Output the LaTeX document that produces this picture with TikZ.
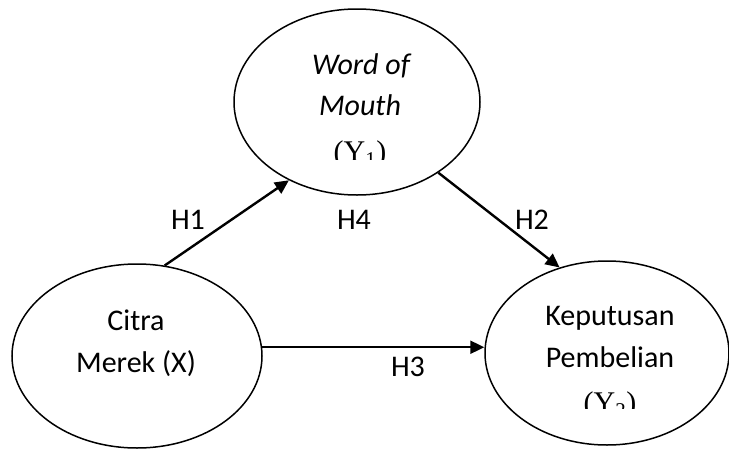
\documentclass[tikz,border=0pt]{standalone}
\usepackage{fontspec}
\setmainfont{Carlito}
\newfontfamily\timesfont{Liberation Serif}
\usetikzlibrary{shapes.geometric,arrows.meta}
\begin{document}
\begin{tikzpicture}[x=1pt,y=-1pt,
  ell/.style={draw, ellipse, line width=1.5pt, inner sep=0pt},
  txt/.style={font=\fontsize{30}{30}\selectfont, inner sep=0pt, anchor=base},
  ytxt/.style={font=\timesfont\fontsize{30}{30}\selectfont, inner sep=0pt, anchor=base},
  arr/.style={-{Triangle[length=14pt,width=13pt]}, line width=2.4pt}]
\useasboundingbox (0,0) rectangle (729,450);
% ellipses
\node[ell, minimum width=246pt, minimum height=186pt] (W) at (357,102) {};
\node[ell, minimum width=250pt, minimum height=184pt] (X) at (137,356) {};
\node[ell, minimum width=244pt, minimum height=184pt] (Y) at (607,353) {};
% texts
\node[txt, font=\fontsize{30}{30}\selectfont\itshape] (w1) at (361,74) {Word of};
\node[txt, font=\fontsize{30}{30}\selectfont\itshape] (w2) at (360,115) {Mouth};
\begin{scope}
  \clip (300,120) rectangle (420,159);
  \node[ytxt] (w3) at (360,161) {(Y\textsubscript{1})};
\end{scope}
\node[txt] (x1) at (136,330) {Citra};
\node[txt] (x2) at (136,372) {Merek (X)};
\node[txt] (y1) at (610,325) {Keputusan};
\node[txt] (y2) at (610,367) {Pembelian};
\begin{scope}
  \clip (550,370) rectangle (670,408);
  \node[ytxt] (y3) at (610,412) {(Y\textsubscript{2})};
\end{scope}
% connectors
\draw[arr] (X.73.7) -- (W.229);
\draw[arr] (W.-41.5) -- (Y.119.5);
\draw[arr] (X.4.1) -- (X.4.1 -| Y.west);
% labels
\node[txt] (h1) at (188,229) {H1};
\node[txt] (h4) at (354,229) {H4};
\node[txt] (h2) at (532,229) {H2};
\node[txt] (h3) at (408,376) {H3};
\end{tikzpicture}
\end{document}
